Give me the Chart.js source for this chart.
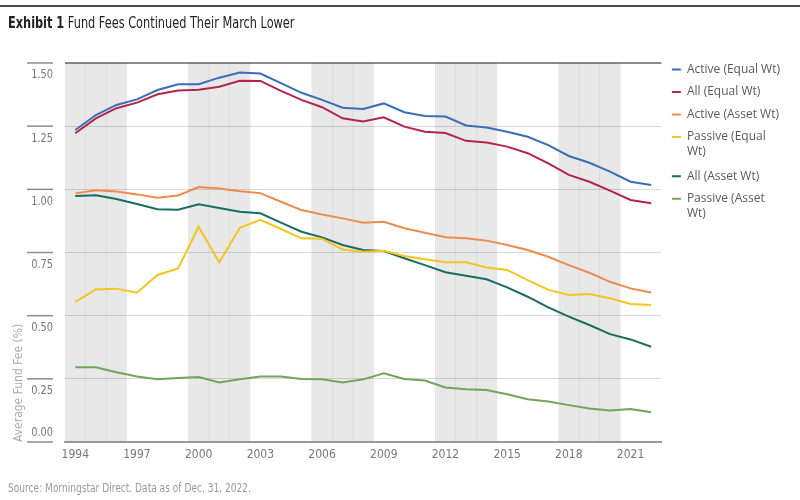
<!DOCTYPE html>
<html>
<head>
<meta charset="utf-8">
<script src="https://cdn.jsdelivr.net/npm/chart.js"></script>
<style>
  body { margin: 0; background: #fff; }
  #wrap { position: relative; width: 800px; height: 500px; overflow: hidden; }
  #rule { position: absolute; left: 0; top: 5px; width: 800px; height: 2px; background: #4a4a4a; }
  .narrow { font-family: 'Liberation Sans Narrow', 'DejaVu Sans Condensed', sans-serif;
            white-space: nowrap; transform-origin: 0 50%; transform: scaleX(0.84); }
  #title { position: absolute; left: 8px; top: 14px; line-height: 18px; font-size: 15px; color: #222; }
  #title b { font-weight: bold; }
  #source { position: absolute; left: 8px; top: 481px; line-height: 14px; font-size: 12px; color: #9a9a9a; }
  canvas { position: absolute; left: 0; top: 0; }
</style>
</head>
<body>
<div id="wrap">
  <canvas id="chart" width="800" height="500"></canvas>
  <div id="rule"></div>
  <div id="title" class="narrow"><b>Exhibit 1</b> Fund Fees Continued Their March Lower</div>
  <div id="source" class="narrow">Source: Morningstar Direct. Data as of Dec. 31, 2022.</div>
</div>
<script>
const AXIS_FONT = "'Liberation Sans Narrow', 'DejaVu Sans Condensed', sans-serif";

// years on the x axis
const years = [1994, 1995, 1996, 1997, 1998, 1999, 2000, 2001, 2002, 2003,
  2004, 2005, 2006, 2007, 2008, 2009, 2010, 2011, 2012, 2013,
  2014, 2015, 2016, 2017, 2018, 2019, 2020, 2021, 2022];

// grey background bands
const shadedYears = [1994, 1995, 1996, 2000, 2001, 2002, 2006, 2007, 2008,
  2012, 2013, 2014, 2018, 2019, 2020];

const seriesNames = ['Active (Equal Wt)', 'All (Equal Wt)', 'Active (Asset Wt)',
  'Passive (Equal Wt)', 'All (Asset Wt)', 'Passive (Asset Wt)'];
const seriesColors = ['#3b6db4', '#b3244c', '#ee8b4c', '#f2c520', '#1b6b62', '#73a45c'];

// average fund fee (%)
const activeEqual = [1.235, 1.294, 1.334, 1.356, 1.393, 1.416, 1.416, 1.442, 1.462, 1.458,
  1.420, 1.382, 1.354, 1.323, 1.318, 1.340, 1.305, 1.290, 1.288, 1.253,
  1.245, 1.228, 1.208, 1.175, 1.132, 1.105, 1.070, 1.030, 1.017];
const allEqual = [1.222, 1.281, 1.321, 1.343, 1.376, 1.391, 1.394, 1.406, 1.430, 1.429,
  1.390, 1.354, 1.325, 1.281, 1.269, 1.285, 1.248, 1.228, 1.223, 1.192,
  1.185, 1.169, 1.143, 1.103, 1.057, 1.030, 0.995, 0.958, 0.945];
const activeAsset = [0.984, 0.996, 0.991, 0.980, 0.967, 0.976, 1.009, 1.003, 0.992, 0.985,
  0.951, 0.918, 0.900, 0.885, 0.868, 0.872, 0.846, 0.828, 0.810, 0.806,
  0.797, 0.780, 0.760, 0.733, 0.700, 0.670, 0.634, 0.608, 0.592];
const passiveEqual = [0.555, 0.604, 0.607, 0.591, 0.661, 0.687, 0.852, 0.710, 0.848, 0.879,
  0.843, 0.806, 0.804, 0.762, 0.753, 0.757, 0.736, 0.723, 0.711, 0.711,
  0.691, 0.681, 0.641, 0.602, 0.582, 0.586, 0.569, 0.546, 0.542];
const allAsset = [0.974, 0.977, 0.962, 0.942, 0.921, 0.919, 0.941, 0.926, 0.911, 0.905,
  0.868, 0.832, 0.810, 0.780, 0.760, 0.756, 0.727, 0.700, 0.672, 0.658,
  0.644, 0.612, 0.575, 0.533, 0.496, 0.463, 0.427, 0.406, 0.377];
const passiveAsset = [0.296, 0.296, 0.276, 0.259, 0.248, 0.253, 0.257, 0.236, 0.248, 0.259,
  0.259, 0.249, 0.248, 0.236, 0.248, 0.272, 0.249, 0.243, 0.216, 0.209,
  0.206, 0.189, 0.169, 0.160, 0.146, 0.133, 0.125, 0.131, 0.118];

const seriesValues = [activeEqual, allEqual, activeAsset, passiveEqual, allAsset, passiveAsset];

const Y_MAX = 1.5;

// long legend entries break onto two lines like the original
function wrapLegend(text) {
  if (text.length <= 17) return text;
  const cut = text.lastIndexOf(' ');
  return [text.slice(0, cut), text.slice(cut + 1)];
}

// y labels sit under their tick dash (0.00 sits above the axis)
const yTickLabels = {
  id: 'yTickLabels',
  afterDraw(chart) {
    const scale = chart.scales.y;
    const left = chart.chartArea.left;
    const ctx = chart.ctx;
    ctx.save();
    ctx.font = `13px ${AXIS_FONT}`;
    ctx.fillStyle = '#777';
    ctx.strokeStyle = '#8c8c8c';
    ctx.lineWidth = 1.5;
    ctx.textAlign = 'right';
    ctx.textBaseline = 'middle';
    scale.ticks.forEach(t => {
      const py = scale.getPixelForValue(t.value);
      ctx.beginPath();
      ctx.moveTo(left - 38, py);
      ctx.lineTo(left - 12, py);
      ctx.stroke();
      ctx.save();
      ctx.translate(left - 12, t.value === 0 ? py - 9 : py + 12);
      ctx.scale(0.84, 1); // condensed look
      ctx.fillText(t.value.toFixed(2), 0, 0);
      ctx.restore();
    });
    ctx.restore();
  }
};

// pull the legend up so its first entry lines up with the top gridline
const legendShift = {
  id: 'legendShift',
  afterLayout(chart) {
    chart.legend.top = chart.chartArea.top - 10;
  }
};

const lineSets = seriesNames.map((name, i) => ({
  type: 'line',
  label: name,
  data: seriesValues[i],
  borderColor: seriesColors[i],
  backgroundColor: seriesColors[i],
  borderWidth: 2,
  pointRadius: 0,
  tension: 0,
  order: 0
}));

const bandSet = {
  type: 'bar',
  label: 'band',
  data: years.map(y => shadedYears.includes(y) ? Y_MAX : null),
  backgroundColor: 'rgba(0,0,0,0.09)',
  borderWidth: 0,
  barPercentage: 1,
  categoryPercentage: 1,
  order: 10
};

new Chart(document.getElementById('chart'), {
  type: 'line',
  data: {
    labels: years,
    datasets: [...lineSets, bandSet]
  },
  options: {
    responsive: false,
    animation: false,
    layout: { padding: { left: 8, top: 63, right: 10, bottom: 34 } },
    plugins: {
      tooltip: { enabled: false },
      legend: {
        position: 'right',
        align: 'start',
        labels: {
          boxWidth: 9,
          boxHeight: 2,
          padding: 10.5,
          color: '#5a5a5a',
          font: { family: "'Open Sans', sans-serif", size: 12, lineHeight: 1.2 },
          filter: item => item.datasetIndex < seriesNames.length,
          generateLabels(chart) {
            return Chart.defaults.plugins.legend.labels.generateLabels(chart).map(item => {
              item.text = wrapLegend(item.text);
              item.lineWidth = 0;
              return item;
            });
          }
        }
      }
    },
    scales: {
      x: {
        type: 'category',
        offset: true,
        afterFit(scale) { scale.height = 24; },
        grid: { display: false, drawTicks: false },
        border: { display: true, color: '#9a9a9a', width: 2 },
        ticks: {
          autoSkip: false,
          maxRotation: 0,
          padding: 6,
          color: '#777',
          font: { family: AXIS_FONT, size: 12 },
          callback(value) {
            const year = Number(this.getLabelForValue(value));
            return (year - years[0]) % 3 === 0 ? String(year) : '';
          }
        }
      },
      y: {
        min: 0,
        max: Y_MAX,
        afterFit(scale) { scale.width = 57; },
        border: { display: false },
        grid: {
          drawTicks: false,
          color: ctx => ctx.tick.value === Y_MAX ? '#8c8c8c' : (ctx.tick.value === 0 ? '#9a9a9a' : '#dadada'),
          lineWidth: ctx => (ctx.tick.value === Y_MAX || ctx.tick.value === 0) ? 2 : 1
        },
        ticks: { stepSize: 0.25, display: false },
        title: {
          display: true,
          text: 'Average Fund Fee (%)',
          align: 'start',
          color: '#ababab',
          padding: 4,
          font: { family: AXIS_FONT, size: 12 }
        }
      }
    }
  },
  plugins: [yTickLabels, legendShift]
});
</script>
</body>
</html>
